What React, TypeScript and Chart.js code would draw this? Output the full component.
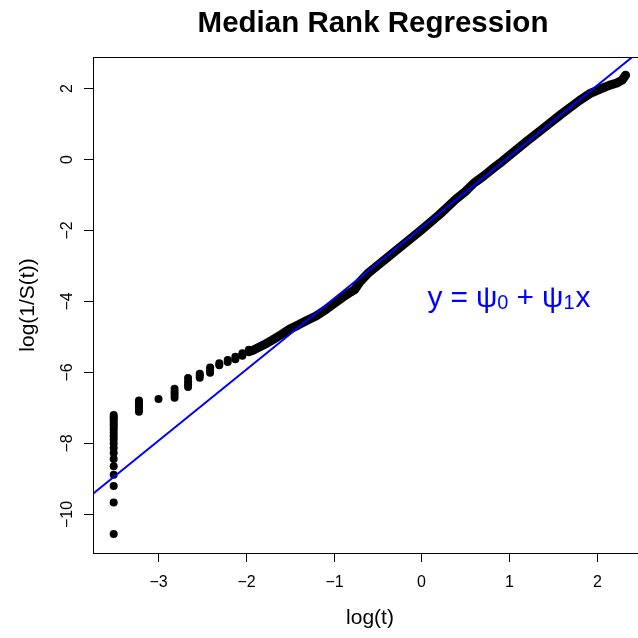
import React, { useEffect, useRef } from "react";
import { Chart, registerables } from "chart.js";

Chart.register(...registerables);

// ---- data ----
const TITLE = "Median Rank Regression";
const X_LABEL = "log(t)";
const Y_LABEL = "log(1/S(t))";

const X_TICKS = [-3, -2, -1, 0, 1, 2];
const Y_TICKS = [-10, -8, -6, -4, -2, 0, 2];

// discrete (tied) log-times at the left end, with the y value of each point
const CLUSTER_X = [-3.507, -3.219, -2.996, -2.813, -2.659, -2.526, -2.408, -2.303, -2.207, -2.12, -2.04, -1.966];
const CLUSTER_Y = [
  [-10.56, -9.67, -9.21, -8.89, -8.65, -8.45, -8.28, -8.14, -8.01, -7.9, -7.8, -7.71, -7.62, -7.54, -7.47, -7.4, -7.33, -7.27, -7.21],
  [-7.12, -7.04, -6.97, -6.91, -6.85, -6.8],
  [-6.76],
  [-6.72, -6.64, -6.56, -6.47],
  [-6.42, -6.34, -6.26, -6.17],
  [-6.16, -6.1, -6.05],
  [-6.02, -5.95, -5.87],
  [-5.81, -5.75],
  [-5.72, -5.66],
  [-5.64, -5.57],
  [-5.54, -5.47],
  [-5.44, -5.37],
];

// dense part of the scatter (thousands of overlapping points), traced as a band
const BAND_X = [-1.93, -1.8, -1.7, -1.6, -1.5, -1.4, -1.3, -1.2, -1.1, -1.0, -0.9, -0.8, -0.76, -0.7, -0.6, -0.4, -0.2, 0.0, 0.2, 0.4, 0.5, 0.6, 0.7, 0.8, 0.9, 1.0, 1.2, 1.4, 1.6, 1.8, 1.92, 2.04, 2.15, 2.23, 2.29, 2.33];
const BAND_Y = [-5.4, -5.24, -5.1, -4.95, -4.79, -4.67, -4.54, -4.42, -4.26, -4.08, -3.9, -3.74, -3.68, -3.46, -3.2, -2.8, -2.4, -2.0, -1.58, -1.12, -0.92, -0.68, -0.5, -0.3, -0.11, 0.09, 0.49, 0.88, 1.27, 1.64, 1.84, 1.97, 2.08, 2.14, 2.22, 2.36];

// fitted line y = psi0 + psi1 * x
const PSI0 = -1.94;
const PSI1 = 2.0;
const FIT_X = [-3.743, 2.642];

// axis ranges
const X_MIN = -3.743;
const X_MAX = 2.642;
const Y_MIN = -11.095;
const Y_MAX = 2.872;

// formula anchor (data coordinates)
const TEXT_X = 1;
const TEXT_Y = -4;

const FONT = "'Liberation Sans', Arial, Helvetica, sans-serif";
const BLUE = "#0000FF";

const minusLabel = (v: number) => (v < 0 ? "\u2212" + Math.abs(v) : String(v));

const decorPlugin = {
  id: "rdecor",
  afterDraw(chart: any) {
    const ctx = chart.ctx as CanvasRenderingContext2D;
    const area = chart.chartArea;
    const xs = chart.scales.x;
    const ys = chart.scales.y;
    ctx.save();
    ctx.strokeStyle = "#000";
    ctx.lineWidth = 1;
    // box
    ctx.strokeRect(Math.round(area.left) + 0.5, Math.round(area.top) + 0.5, area.right - area.left, area.bottom - area.top);

    // x ticks
    ctx.fillStyle = "#000";
    ctx.font = `16px ${FONT}`;
    ctx.textAlign = "center";
    ctx.textBaseline = "middle";
    for (const v of X_TICKS) {
      const px = Math.round(xs.getPixelForValue(v)) + 0.5;
      ctx.beginPath();
      ctx.moveTo(px, Math.round(area.bottom));
      ctx.lineTo(px, Math.round(area.bottom) + 9);
      ctx.stroke();
      ctx.fillText(minusLabel(v), px, area.bottom + 30);
    }
    // y ticks
    for (const v of Y_TICKS) {
      const py = Math.round(ys.getPixelForValue(v)) + 0.5;
      ctx.beginPath();
      ctx.moveTo(Math.round(area.left), py);
      ctx.lineTo(Math.round(area.left) - 9, py);
      ctx.stroke();
      ctx.save();
      ctx.translate(area.left - 25, py);
      ctx.rotate(-Math.PI / 2);
      ctx.fillText(minusLabel(v), 0, 0);
      ctx.restore();
    }

    // axis titles
    ctx.font = `21px ${FONT}`;
    ctx.textBaseline = "alphabetic";
    ctx.fillText(X_LABEL, 370, 623.5);
    ctx.save();
    ctx.translate(34, (area.top + area.bottom) / 2);
    ctx.rotate(-Math.PI / 2);
    ctx.fillText(Y_LABEL, 0, 0);
    ctx.restore();

    // main title
    ctx.font = `bold 29.5px ${FONT}`;
    ctx.fillText(TITLE, 373, 31.5);

    // formula y = psi0 + psi1 x
    const mainF = `30px ${FONT}`;
    const subF = `20px ${FONT}`;
    const gap = 8;
    const parts: { t: string; f: string; sub?: boolean; g?: number }[] = [
      { t: "y", f: mainF, g: gap },
      { t: "=", f: mainF, g: gap },
      { t: "\u03C8", f: mainF },
      { t: "0", f: subF, sub: true, g: gap },
      { t: "+", f: mainF, g: gap },
      { t: "\u03C8", f: mainF },
      { t: "1", f: subF, sub: true, g: 1 },
      { t: "x", f: mainF },
    ];
    let total = 0;
    const widths: number[] = [];
    for (const p of parts) {
      ctx.font = p.f;
      const w = ctx.measureText(p.t).width;
      widths.push(w);
      total += w + (p.g || 0);
    }
    const cx = xs.getPixelForValue(TEXT_X);
    const base = ys.getPixelForValue(TEXT_Y) + 6;
    let cur = cx - total / 2;
    ctx.fillStyle = BLUE;
    ctx.textAlign = "left";
    parts.forEach((p, i) => {
      ctx.font = p.f;
      ctx.fillText(p.t, cur, p.sub ? base + 1.5 : base);
      cur += widths[i] + (p.g || 0);
    });
    ctx.restore();
  },
};

export default function App() {
  const ref = useRef<HTMLCanvasElement>(null);
  useEffect(() => {
    document.body.style.margin = "0";
    document.body.style.overflow = "hidden";
    const dots: { x: number; y: number }[] = [];
    CLUSTER_X.forEach((x, i) => CLUSTER_Y[i].forEach((y) => dots.push({ x, y })));
    const band = BAND_X.map((x, i) => ({ x, y: BAND_Y[i] }));
    const fit = FIT_X.map((x) => ({ x, y: PSI0 + PSI1 * x }));
    const chart = new Chart(ref.current as HTMLCanvasElement, {
      type: "scatter",
      data: {
        datasets: [
          {
            data: fit,
            showLine: true,
            borderColor: BLUE,
            borderWidth: 2,
            pointRadius: 0,
            order: 0,
            clip: 0,
          } as any,
          {
            data: band,
            showLine: true,
            borderColor: "#000",
            borderWidth: 9,
            borderCapStyle: "round",
            borderJoinStyle: "round",
            pointRadius: 0,
            order: 1,
          } as any,
          {
            data: dots,
            backgroundColor: "#000",
            borderWidth: 0,
            pointRadius: 4,
            order: 2,
          } as any,
        ],
      },
      options: {
        responsive: false,
        animation: false,
        events: [],
        layout: { autoPadding: false, padding: { left: 93, top: 57, right: 0, bottom: 85 } },
        plugins: { legend: { display: false }, tooltip: { enabled: false }, title: { display: false } },
        scales: {
          x: { type: "linear", display: false, min: X_MIN, max: X_MAX },
          y: { type: "linear", display: false, min: Y_MIN, max: Y_MAX },
        },
      },
      plugins: [decorPlugin],
    });
    return () => chart.destroy();
  }, []);
  return (
    <div style={{ width: 638, height: 638, overflow: "hidden", background: "#fff" }}>
      <canvas ref={ref} width={653} height={638} style={{ display: "block" }} />
    </div>
  );
}
